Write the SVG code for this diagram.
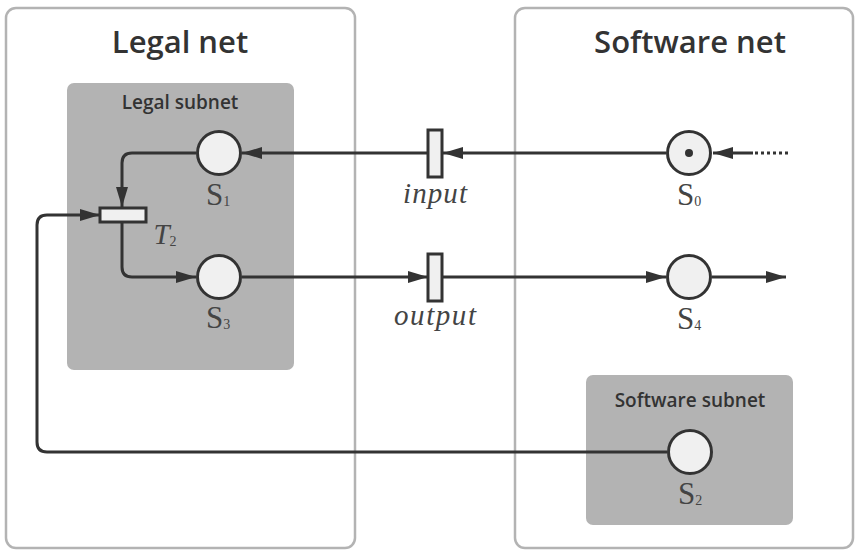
<svg xmlns="http://www.w3.org/2000/svg" width="859" height="550" viewBox="0 0 859 550">
  <defs>
    <marker id="arrow" viewBox="0 0 20 12" refX="20" refY="6" markerWidth="20" markerHeight="12" markerUnits="userSpaceOnUse" orient="auto">
      <path d="M0,0 L20,6 L0,12 Z" fill="#333"/>
    </marker>
    <style>
      .net { fill: #fff; stroke: #b3b3b3; stroke-width: 2.5; }
      .subnet { fill: #b3b3b3; stroke: none; }
      .title { font-family: "Open Sans", "Noto Sans", sans-serif; font-weight: 600; font-size: 31px; fill: #333; text-anchor: middle; }
      .subtitle { font-family: "Open Sans", "Noto Sans", sans-serif; font-weight: 600; font-size: 19px; fill: #333; text-anchor: middle; }
      .place { fill: #f0f0f0; stroke: #333; stroke-width: 3; }
      .trans { fill: #f0f0f0; stroke: #333; stroke-width: 3; }
      .edge { fill: none; stroke: #333; stroke-width: 3; }
      .lbl { font-family: "Liberation Serif", "DejaVu Serif", serif; font-size: 31px; fill: #444; text-anchor: middle; }
      .sub { font-size: 14px; font-style: normal; }
      .it { font-family: "Liberation Serif", "DejaVu Serif", serif; font-style: italic; font-size: 29px; fill: #444; text-anchor: middle; }
    </style>
  </defs>

  <!-- containers -->
  <g id="legal-net">
    <rect class="net" x="6" y="8" width="349" height="540" rx="10"/>
    <text class="title" x="180" y="53">Legal net</text>
  </g>
  <g id="software-net">
    <rect class="net" x="515" y="8" width="338" height="540" rx="10"/>
    <text class="title" x="690" y="53">Software net</text>
  </g>
  <g id="legal-subnet">
    <rect class="subnet" x="67" y="83" width="227" height="287" rx="7"/>
    <text class="subtitle" x="180" y="109">Legal subnet</text>
  </g>
  <g id="software-subnet">
    <rect class="subnet" x="586" y="375" width="207" height="150" rx="7"/>
    <text class="subtitle" x="690" y="407">Software subnet</text>
  </g>

  <!-- connectors -->
  <g id="connectors">
    <!-- S0 to input -->
    <line class="edge" x1="666" y1="153" x2="443" y2="153" marker-end="url(#arrow)"/>
    <!-- input to S1 -->
    <line class="edge" x1="428" y1="153" x2="242" y2="153" marker-end="url(#arrow)"/>
    <!-- external feed into S0 -->
    <line class="edge" x1="753" y1="153" x2="713" y2="153" marker-end="url(#arrow)"/>
    <line class="edge" x1="755" y1="153" x2="790" y2="153" stroke-dasharray="3,3"/>
    <!-- S1 to T2 -->
    <path class="edge" d="M196,153 H132 Q122,153 122,163 V207" marker-end="url(#arrow)"/>
    <!-- T2 to S3 -->
    <path class="edge" d="M122,222 V267 Q122,277 132,277 H196" marker-end="url(#arrow)"/>
    <!-- S3 to output -->
    <line class="edge" x1="242" y1="277" x2="428" y2="277" marker-end="url(#arrow)"/>
    <!-- output to S4 -->
    <line class="edge" x1="443" y1="277" x2="666" y2="277" marker-end="url(#arrow)"/>
    <!-- S4 outgoing -->
    <line class="edge" x1="712" y1="277" x2="786" y2="277" marker-end="url(#arrow)"/>
    <!-- S2 back to T2 -->
    <path class="edge" d="M667,452 H47 Q37,452 37,442 V225 Q37,215 47,215 H100" marker-end="url(#arrow)"/>
  </g>

  <!-- places and transitions -->
  <g id="S1">
    <circle class="place" cx="219" cy="153" r="21.5"/>
    <text class="lbl" x="218" y="205">S<tspan class="sub" dy="1">1</tspan></text>
  </g>
  <g id="S3">
    <circle class="place" cx="219" cy="277" r="21.5"/>
    <text class="lbl" x="218" y="328">S<tspan class="sub" dy="1">3</tspan></text>
  </g>
  <g id="T2">
    <rect class="trans" x="100" y="208" width="46" height="14"/>
    <text class="it" x="165" y="244" font-size="31">T<tspan class="sub" dy="2">2</tspan></text>
  </g>
  <g id="input">
    <rect class="trans" x="428" y="130" width="14" height="47"/>
    <text class="it" x="435" y="203" textLength="64" lengthAdjust="spacing">input</text>
  </g>
  <g id="output">
    <rect class="trans" x="428" y="254" width="14" height="47"/>
    <text class="it" x="435" y="325" textLength="82" lengthAdjust="spacing">output</text>
  </g>
  <g id="S0">
    <circle class="place" cx="689" cy="153" r="21.5"/>
    <circle cx="689" cy="153" r="4" fill="#333"/>
    <text class="lbl" x="689" y="205">S<tspan class="sub" dy="1">0</tspan></text>
  </g>
  <g id="S4">
    <circle class="place" cx="689" cy="277" r="21.5"/>
    <text class="lbl" x="689" y="329">S<tspan class="sub" dy="1">4</tspan></text>
  </g>
  <g id="S2">
    <circle class="place" cx="690" cy="452" r="21.5"/>
    <text class="lbl" x="690" y="504">S<tspan class="sub" dy="1">2</tspan></text>
  </g>
</svg>
